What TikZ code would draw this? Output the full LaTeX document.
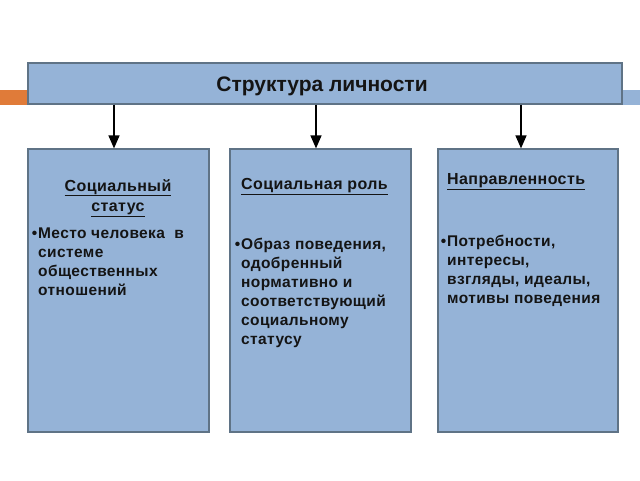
\documentclass[tikz,border=0pt]{standalone}
\usepackage{fontspec}
\setmainfont{Liberation Sans}
\newfontfamily\spaced[LetterSpace=2.5]{Liberation Sans}
\usetikzlibrary{arrows.meta}
\definecolor{boxfill}{HTML}{95B3D7}
\definecolor{boxline}{HTML}{5F7386}
\definecolor{accent}{HTML}{E07B39}
\definecolor{txt}{HTML}{141414}
\tikzset{
  panel/.style={draw=boxline, line width=1.2pt, fill=boxfill, inner sep=0pt},
  head/.style={font=\spaced\bfseries\fontsize{16}{20}\selectfont, text=txt, inner sep=0pt, align=center},
  body/.style={font=\spaced\bfseries\fontsize{15.5}{19}\selectfont, text=txt, inner sep=0pt, align=left, anchor=north west},
  arr/.style={line width=1.3pt, -{Triangle[length=13pt,width=11pt]}}
}
\begin{document}
\begin{tikzpicture}[x=1pt,y=-1pt]
\useasboundingbox (0,0) rectangle (640,480);
% side stripes
\fill[accent] (0,90) rectangle (34,105);
\fill[boxfill] (620,90) rectangle (640,105);
% top box
\node[panel, minimum width=594pt, minimum height=41pt] (top) at (325,83.5) {};
\node[font=\bfseries\fontsize{21}{25}\selectfont, text=txt, inner sep=0pt] (title) at (322,86) {Структура личности};
% boxes
\node[panel, minimum width=181pt, minimum height=283pt] (b1) at (118.5,290.5) {};
\node[panel, minimum width=181pt, minimum height=283pt] (b2) at (320.5,290.5) {};
\node[panel, minimum width=180pt, minimum height=283pt] (b3) at (528,290.5) {};
% arrows
\coordinate (a1) at (114,0);
\coordinate (a2) at (316,0);
\coordinate (a3) at (521,0);
\draw[arr] (top.south -| a1) -- (b1.north -| a1);
\draw[arr] (top.south -| a2) -- (b2.north -| a2);
\draw[arr] (top.south -| a3) -- (b3.north -| a3);
% texts box 1
\node[head, anchor=north] (h1) at (118,179) {\underline{Социальный}\\[0pt]\underline{статус}};
\node[body] (t1) at (38,228) {\llap{•\hspace{1pt}}Место человека \ в\\системе\\общественных\\отношений};
% texts box 2
\node[head, anchor=north west] (h2) at (241,178) {\underline{Социальная роль}};
\node[body] (t2) at (241,238) {\llap{•\hspace{1pt}}Образ поведения,\\одобренный\\нормативно и\\соответствующий\\социальному\\статусу};
% texts box 3
\node[head, anchor=north west] (h3) at (447,173) {\underline{Направленность}};
\node[body] (t3) at (447,235) {\llap{•\hspace{1pt}}Потребности,\\интересы,\\взгляды, идеалы,\\мотивы поведения};
\end{tikzpicture}
\end{document}
